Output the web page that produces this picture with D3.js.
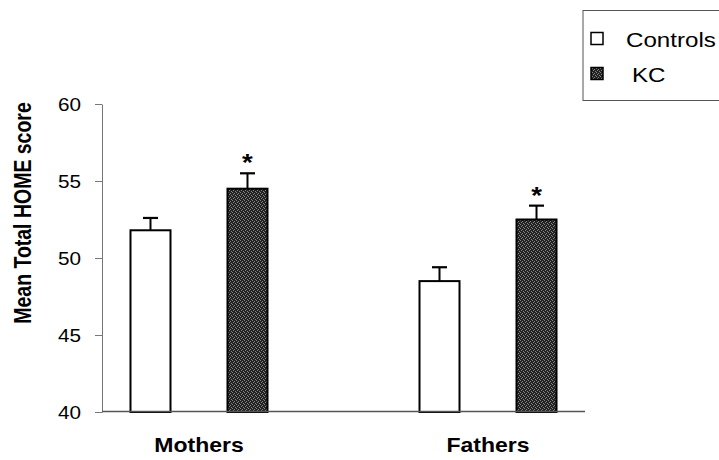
<!DOCTYPE html>
<html>
<head>
<meta charset="utf-8">
<script src="https://cdn.jsdelivr.net/npm/d3@7/dist/d3.min.js"></script>
<style>
  html, body { margin: 0; padding: 0; background: #fff; }
  svg { display: block; }
  text { font-family: "Liberation Sans", Arial, sans-serif; fill: #000; }
</style>
</head>
<body>
<svg id="chart" width="719" height="460"></svg>
<script>
const groups = ["Mothers", "Fathers"];
const series = ["Controls", "KC"];
const controlsMeans = [51.8, 48.5];
const controlsErr = [0.8, 0.9];
const kcMeans = [54.5, 52.5];
const kcErr = [1.0, 0.9];
const significant = [true, true];
const yTicks = [40, 45, 50, 55, 60];
const yTitle = "Mean Total HOME score";

const SX = 1.15; // horizontal stretch of the original's text

const svg = d3.select("#chart");

// texture for KC bars
const defs = svg.append("defs");
const pat = defs.append("pattern").attr("id", "kcfill")
  .attr("patternUnits", "userSpaceOnUse").attr("width", 4).attr("height", 4);
pat.append("rect").attr("width", 4).attr("height", 4).attr("fill", "#222");
[[0,0],[2,1],[1,2],[3,3]].forEach(([px,py]) =>
  pat.append("rect").attr("x", px).attr("y", py).attr("width", 1).attr("height", 1).attr("fill", "#858585"));

const x0 = d3.scalePoint().domain(groups).range([102, 585]).padding(0.3356);
const x1 = d3.scaleBand().domain(series).range([-88, 88]).paddingInner(0.5876).paddingOuter(0.201);
const y = d3.scaleLinear().domain([40, 60]).range([412, 104]);

const rows = [];
groups.forEach((g, i) => {
  rows.push({ g, s: "Controls", v: controlsMeans[i], e: controlsErr[i], sig: false });
  rows.push({ g, s: "KC", v: kcMeans[i], e: kcErr[i], sig: significant[i] });
});

// Y axis
const yAxis = svg.append("g").attr("transform", "translate(102,0)")
  .call(d3.axisLeft(y).tickValues(yTicks).tickSize(7).tickSizeOuter(0));
yAxis.select(".domain").attr("stroke", "#777").attr("stroke-width", 1);
yAxis.selectAll(".tick line").attr("stroke", "#777").attr("stroke-width", 1);
yAxis.selectAll(".tick text")
  .attr("x", 0).attr("dy", "0.36em")
  .attr("transform", `translate(-21,0) scale(${SX},1)`)
  .attr("text-anchor", "end")
  .style("font-family", "'Liberation Sans', Arial, sans-serif")
  .style("font-size", "18px").attr("fill", "#000");

// bars
const barG = svg.append("g");
rows.forEach(r => {
  const bx = x0(r.g) + x1(r.s);
  const bw = x1.bandwidth();
  const cx = bx + bw / 2;
  // error bar
  barG.append("line").attr("x1", cx).attr("x2", cx)
    .attr("y1", y(r.v)).attr("y2", y(r.v + r.e))
    .attr("stroke", "#000").attr("stroke-width", 2);
  barG.append("line").attr("x1", cx - 7.5).attr("x2", cx + 7.5)
    .attr("y1", y(r.v + r.e)).attr("y2", y(r.v + r.e))
    .attr("stroke", "#000").attr("stroke-width", 2.2);
  barG.append("rect")
    .attr("x", bx).attr("y", y(r.v))
    .attr("width", bw).attr("height", y(40) - y(r.v))
    .attr("fill", r.s === "KC" ? "url(#kcfill)" : "#fff")
    .attr("stroke", "#000").attr("stroke-width", 2);
  if (r.sig) {
    barG.append("text")
      .attr("transform", `translate(${cx},${y(r.v + r.e) - 2}) scale(${SX},1)`)
      .attr("text-anchor", "middle")
      .style("font-size", "24px").style("font-weight", "bold")
      .text("*");
  }
});

// x axis baseline
svg.append("line").attr("x1", 102).attr("x2", 585)
  .attr("y1", 411.5).attr("y2", 411.5)
  .attr("stroke", "#555").attr("stroke-width", 1.5);

// category labels
groups.forEach(g => {
  svg.append("text")
    .attr("transform", `translate(${x0(g)},451.5) scale(1.18,1)`)
    .attr("text-anchor", "middle")
    .style("font-size", "19.5px").style("font-weight", "bold")
    .text(g);
});

// y title
svg.append("text")
  .attr("transform", `translate(23,213) scale(1.2,1) rotate(-90)`)
  .attr("text-anchor", "middle").attr("dy", "0.36em")
  .style("font-size", "19.5px").style("font-weight", "bold")
  .text(yTitle);

// legend
const lg = svg.append("g");
lg.append("rect").attr("x", 583).attr("y", 10.5).attr("width", 150).attr("height", 90)
  .attr("fill", "#fff").attr("stroke", "#555").attr("stroke-width", 1);
const legendY = [39, 74];
series.forEach((s, i) => {
  lg.append("rect").attr("x", 591).attr("y", legendY[i] - 6.5).attr("width", 12).attr("height", 12)
    .attr("fill", s === "KC" ? "url(#kcfill)" : "#fff")
    .attr("stroke", "#000").attr("stroke-width", 1.5);
  lg.append("text")
    .attr("transform", `translate(${s === "KC" ? 632 : 626},${legendY[i] + 8}) scale(${SX},1)`)
    .style("font-size", "21px")
    .text(s);
});
</script>
</body>
</html>
